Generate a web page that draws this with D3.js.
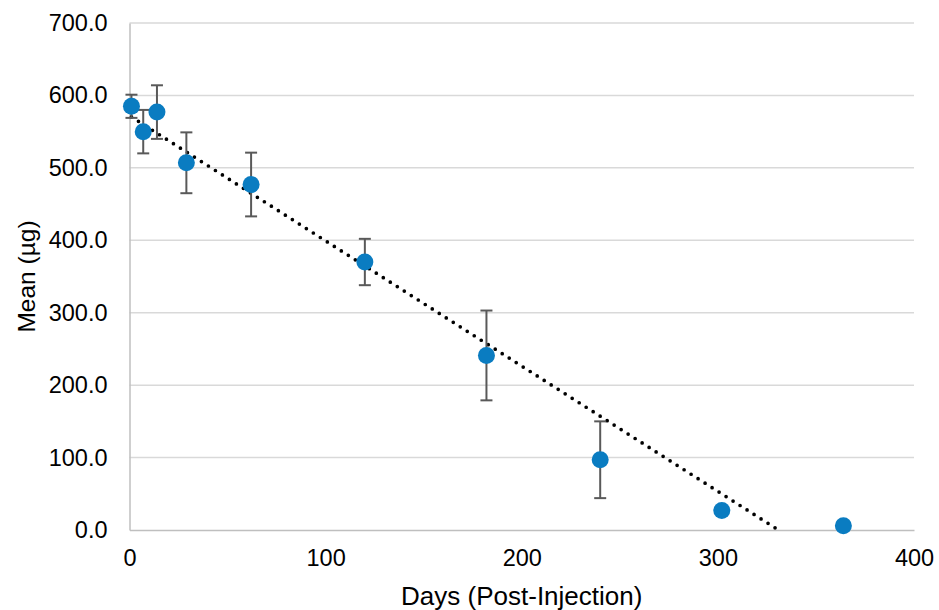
<!DOCTYPE html>
<html>
<head>
<meta charset="utf-8">
<script src="https://cdn.jsdelivr.net/npm/d3@7"></script>
<style>
  body { margin: 0; background: #fff; }
  text { font-family: "Liberation Sans", Arial, sans-serif; fill: #000; }
</style>
</head>
<body>
<div id="chart"></div>
<script>
// data
const days = [1, 7, 14, 29, 62, 120, 182, 240, 302, 364];
const means = [585, 550, 577, 507, 477, 370, 241, 97, 27, 6];
const errs = [16, 30, 37, 42, 44, 32, 62, 53, 0, 0];
const xTicks = [0, 100, 200, 300, 400];
const yTicks = [0, 100, 200, 300, 400, 500, 600, 700];

const W = 939, H = 610;
const margin = { top: 23, right: 25, bottom: 80, left: 129.5 },
    width = W - margin.left - margin.right,
    height = H - margin.top - margin.bottom;

const svg = d3.select("#chart")
    .append("svg")
    .attr("width", W)
    .attr("height", H)
    .append("g")
    .attr("transform", `translate(${margin.left}, ${margin.top})`);

const x = d3.scaleLinear().domain([0, 400]).range([0, width]);
const y = d3.scaleLinear().domain([0, 700]).range([height, 0]);

// gridlines
svg.append("g")
    .selectAll("line")
    .data(yTicks.filter(d => d > 0))
    .enter().append("line")
    .attr("x1", 0).attr("x2", width)
    .attr("y1", d => y(d)).attr("y2", d => y(d))
    .attr("stroke", "#d9d9d9")
    .attr("stroke-width", 1.5);

// y axis
const yAxis = svg.append("g")
    .call(d3.axisLeft(y).tickValues(yTicks).tickFormat(d3.format(".1f")).tickSize(0).tickPadding(22));
yAxis.select(".domain").attr("stroke", "#bfbfbf").attr("stroke-width", 1.5);
yAxis.selectAll("text").style("font-size", "23.5px");

// x axis
const xAxis = svg.append("g")
    .attr("transform", `translate(0, ${height})`)
    .call(d3.axisBottom(x).tickValues(xTicks).tickSize(0).tickPadding(19));
xAxis.select(".domain").attr("stroke", "#bfbfbf").attr("stroke-width", 1.5);
xAxis.selectAll("text").style("font-size", "23.5px");

// axis titles
svg.append("text")
    .attr("x", width / 2)
    .attr("y", height + 75)
    .attr("text-anchor", "middle")
    .style("font-size", "26px")
    .text("Days (Post-Injection)");

svg.append("text")
    .attr("transform", "rotate(-90)")
    .attr("x", -height / 2)
    .attr("y", -95)
    .attr("text-anchor", "middle")
    .style("font-size", "24.5px")
    .text("Mean (µg)");

// linear trendline (least squares over all points), clipped at the plot area
const n = days.length;
const mx = d3.mean(days), my = d3.mean(means);
const slope = d3.sum(days, (d, i) => (d - mx) * (means[i] - my)) / d3.sum(days, d => (d - mx) * (d - mx));
const icept = my - slope * mx;
const xEnd = Math.min(days[n - 1], -icept / slope);

svg.append("line")
    .attr("x1", x(days[0])).attr("y1", y(icept + slope * days[0]))
    .attr("x2", x(xEnd)).attr("y2", y(icept + slope * xEnd))
    .attr("stroke", "#000")
    .attr("stroke-width", 3.7)
    .attr("stroke-linecap", "round")
    .attr("stroke-dasharray", "0 8.3");

// error bars
const pts = days.map((d, i) => ({ day: d, mean: means[i], err: errs[i] }));
const eb = svg.append("g")
    .selectAll("g")
    .data(pts.filter(d => d.err > 0))
    .enter().append("g")
    .attr("stroke", "#595959")
    .attr("stroke-width", 2);

eb.append("line")
    .attr("x1", d => x(d.day)).attr("x2", d => x(d.day))
    .attr("y1", d => y(d.mean + d.err)).attr("y2", d => y(d.mean - d.err));
eb.append("line")
    .attr("x1", d => x(d.day) - 6).attr("x2", d => x(d.day) + 6)
    .attr("y1", d => y(d.mean + d.err)).attr("y2", d => y(d.mean + d.err));
eb.append("line")
    .attr("x1", d => x(d.day) - 6).attr("x2", d => x(d.day) + 6)
    .attr("y1", d => y(d.mean - d.err)).attr("y2", d => y(d.mean - d.err));

// markers
svg.append("g")
    .selectAll("circle")
    .data(pts)
    .enter().append("circle")
    .attr("cx", d => x(d.day))
    .attr("cy", d => y(d.mean))
    .attr("r", 8.5)
    .attr("fill", "#0a7cc1");
</script>
</body>
</html>
